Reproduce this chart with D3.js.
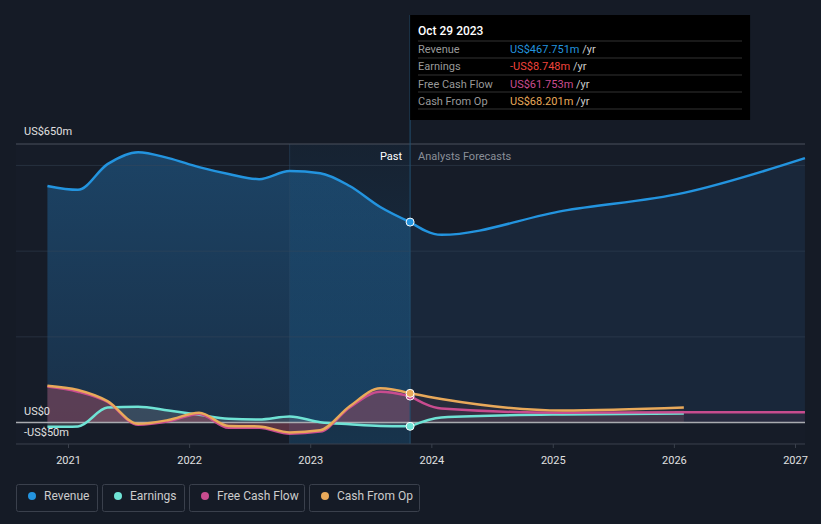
<!DOCTYPE html>
<html>
<head>
<meta charset="utf-8">
<script src="https://cdn.jsdelivr.net/npm/d3@7.9.0/dist/d3.min.js"></script>
<style>
  body { margin: 0; background: #151b26; }
  svg { display: block; font-family: Roboto, "Noto Sans", sans-serif; }
</style>
</head>
<body>
<svg id="chart" width="821" height="524"></svg>
<script>
const pastDates = ['2020-10-31', '2021-01-31', '2021-04-30', '2021-07-31', '2021-10-31', '2022-01-31',
  '2022-04-30', '2022-07-31', '2022-10-31', '2023-01-31', '2023-04-30', '2023-07-31', '2023-10-29'];
const revenuePast = [552, 543, 603, 631, 617, 596, 580, 568, 587, 582, 552, 503, 467.751];
const earningsPast = [-10, -9, 35, 37, 28, 18, 9, 7, 14, 1, -4, -8, -8.748];
const fcfPast = [84, 72, 48, -5, 3, 20, -12, -12, -26, -21, 35, 72, 61.753];
const cfoPast = [86, 76, 50, -3, 6, 23, -8, -9, -23, -18, 38, 80, 68.201];

const fcDates = ['2023-10-29', '2024-01-31', '2025-01-31', '2026-01-31', '2027-01-31'];
const revenueFc = [467.751, 438, 494, 536, 617];
const earningsFc = [-8.748, 12, 19, 21];
const fcfFc = [61.753, 33, 23, 24, 24];
const cfoFc = [68.201, 55, 28, 35];

const yTicks = [0, 200, 400, 600];
const xTickYears = [2021, 2022, 2023, 2024, 2025, 2026, 2027];

const colors = { revenue: '#2394df', earnings: '#6fe3d5', fcf: '#c94c8f', cfo: '#e8a95a' };

const parse = d3.timeParse('%Y-%m-%d');
const svg = d3.select('#chart');

const x = d3.scaleTime()
  .domain([new Date(2021, 0, 1), new Date(2027, 0, 1)])
  .range([68, 795]);
const y = d3.scaleLinear().domain([-50, 650]).range([444, 144]);

const left = 16, right = 805;
const nowDate = parse('2023-10-29');
const xNow = x(nowDate);
const xBand = x(parse('2022-10-31'));

function series(dates, vals) {
  return vals.map((v, i) => ({ date: parse(dates[i]), value: v }));
}

// plot background
svg.append('rect').attr('x', left).attr('y', 144).attr('width', right - left).attr('height', 300)
  .attr('fill', '#161c28');

const defs = svg.append('defs');
const g1 = defs.append('linearGradient').attr('id', 'pastFill').attr('x1', 0).attr('x2', 0).attr('y1', 0).attr('y2', 1);
g1.append('stop').attr('offset', '0%').attr('stop-color', '#1d4a70').attr('stop-opacity', 0.85);
g1.append('stop').attr('offset', '100%').attr('stop-color', '#1a3550').attr('stop-opacity', 0.8);
const g2 = defs.append('linearGradient').attr('id', 'bandFill').attr('x1', 0).attr('x2', 0).attr('y1', 0).attr('y2', 1);
g2.append('stop').attr('offset', '0%').attr('stop-color', '#1a6aa0').attr('stop-opacity', 0.08);
g2.append('stop').attr('offset', '100%').attr('stop-color', '#1a6aa0').attr('stop-opacity', 0.3);

const revPast = series(pastDates, revenuePast);
const revFc = series(fcDates, revenueFc);
const curve = d3.curveMonotoneX;

const area = d3.area().x(d => x(d.date)).y0(y(0)).y1(d => y(d.value)).curve(curve);
const line = d3.line().x(d => x(d.date)).y(d => y(d.value)).curve(curve);

// revenue areas
svg.append('path').datum(revPast).attr('d', area).attr('fill', 'url(#pastFill)');
svg.append('path').datum(revFc).attr('d', area).attr('fill', '#1a2a3e').attr('opacity', 0.8);

// highlight band of last year
svg.append('rect').attr('x', xBand).attr('y', 144).attr('width', xNow - xBand).attr('height', 300)
  .attr('fill', 'url(#bandFill)');
svg.append('line').attr('x1', xBand).attr('x2', xBand).attr('y1', 144).attr('y2', 444)
  .attr('stroke', '#2a4a66').attr('stroke-opacity', 0.5);

// gridlines
svg.append('g').selectAll('line').data(yTicks).join('line')
  .attr('x1', left).attr('x2', right)
  .attr('y1', d => y(d)).attr('y2', d => y(d))
  .attr('stroke', '#3a4a5c').attr('stroke-opacity', 0.45).attr('stroke-width', 1);
svg.append('line').attr('x1', left).attr('x2', right).attr('y1', y(650)).attr('y2', y(650))
  .attr('stroke', '#4a505c');

// small series areas
const small = [
  { key: 'earnings', past: earningsPast, fc: earningsFc, fill: '#8a8f96' },
  { key: 'cfo', past: cfoPast, fc: cfoFc, fill: '#a0504f' },
  { key: 'fcf', past: fcfPast, fc: fcfFc, fill: '#a04a70' }
];
small.forEach(s => {
  svg.append('path').datum(series(pastDates, s.past)).attr('d', area)
    .attr('fill', s.fill).attr('opacity', 0.28);
  svg.append('path').datum(series(fcDates, s.fc)).attr('d', area)
    .attr('fill', s.fill).attr('opacity', 0.12);
});

// zero line
svg.append('line').attr('x1', left).attr('x2', right).attr('y1', y(0)).attr('y2', y(0))
  .attr('stroke', '#a9abb0').attr('stroke-width', 1.5);

// lines
const drawOrder = [
  { key: 'earnings', past: earningsPast, fc: earningsFc },
  { key: 'fcf', past: fcfPast, fc: fcfFc },
  { key: 'cfo', past: cfoPast, fc: cfoFc },
  { key: 'revenue', past: revenuePast, fc: revenueFc }
];
drawOrder.forEach(s => {
  svg.append('path').datum(series(pastDates, s.past)).attr('d', line)
    .attr('fill', 'none').attr('stroke', colors[s.key]).attr('stroke-width', 2.5);
  svg.append('path').datum(series(fcDates, s.fc)).attr('d', line)
    .attr('fill', 'none').attr('stroke', colors[s.key]).attr('stroke-width', 2.5);
});

// now line
svg.append('line').attr('x1', xNow).attr('x2', xNow).attr('y1', 15).attr('y2', 444)
  .attr('stroke', '#22506f').attr('stroke-width', 1);

// markers at now
[['fcf', fcfPast], ['cfo', cfoPast], ['earnings', earningsPast], ['revenue', revenuePast]].forEach(([k, vals]) => {
  svg.append('circle').attr('cx', xNow).attr('cy', y(vals[vals.length - 1])).attr('r', 4)
    .attr('fill', colors[k]).attr('stroke', '#fff').attr('stroke-width', 1);
});

// Past / forecast labels
svg.append('text').attr('x', xNow - 8).attr('y', 160).attr('text-anchor', 'end')
  .attr('fill', '#fff').attr('font-size', 11).text('Past');
svg.append('text').attr('x', xNow + 8).attr('y', 160)
  .attr('fill', '#8a8f98').attr('font-size', 11).text('Analysts Forecasts');

// y labels
svg.append('text').attr('x', 24).attr('y', 135).attr('fill', '#e0e0e0').attr('font-size', 11).text('US$650m');
svg.append('text').attr('x', 24).attr('y', 415).attr('fill', '#e0e0e0').attr('font-size', 11).text('US$0');
svg.append('text').attr('x', 24).attr('y', 436).attr('fill', '#e0e0e0').attr('font-size', 11).text('-US$50m');

// x axis
const xAxis = d3.axisBottom(x)
  .tickValues(xTickYears.map(yr => new Date(yr, 0, 1)))
  .tickFormat(d3.timeFormat('%Y'))
  .tickSize(4)
  .tickSizeOuter(0);
const ax = svg.append('g').attr('transform', 'translate(0,444)').call(xAxis);
ax.select('.domain').remove();
ax.insert('line', ':first-child').attr('x1', left).attr('x2', right).attr('stroke', '#3a404c');
ax.selectAll('.tick line').attr('stroke', '#3a404c');
ax.selectAll('.tick text').attr('fill', '#e0e0e0').attr('font-size', 11).attr('dy', '1.2em')
  .attr('font-family', 'Roboto, "Noto Sans", sans-serif');

// tooltip
const tip = svg.append('g');
tip.append('rect').attr('x', xNow).attr('y', 15).attr('width', 340).attr('height', 105).attr('fill', '#000');
tip.append('text').attr('x', 418).attr('y', 35).attr('fill', '#fff').attr('font-size', 12)
  .attr('font-weight', 500).text('Oct 29 2023');
const tipRows = [
  ['Revenue', 'US$467.751m', '#2394df'],
  ['Earnings', '-US$8.748m', '#f0443c'],
  ['Free Cash Flow', 'US$61.753m', '#c94c8f'],
  ['Cash From Op', 'US$68.201m', '#e8a95a']
];
[41, 58, 75, 92, 109].forEach(yy => {
  tip.append('line').attr('x1', 418).attr('x2', 742).attr('y1', yy).attr('y2', yy).attr('stroke', '#333');
});
tipRows.forEach((r, i) => {
  const yy = 53 + i * 17.3;
  tip.append('text').attr('x', 418).attr('y', yy).attr('fill', '#999').attr('font-size', 11).text(r[0]);
  const t = tip.append('text').attr('x', 510).attr('y', yy).attr('font-size', 11);
  t.append('tspan').attr('fill', r[2]).text(r[1]);
  t.append('tspan').attr('fill', '#ccc').text(' /yr');
});

// legend
const legendItems = [
  ['Revenue', colors.revenue, 16, 81],
  ['Earnings', colors.earnings, 102, 82],
  ['Free Cash Flow', colors.fcf, 189, 115],
  ['Cash From Op', colors.cfo, 309, 110]
];
const lg = svg.append('g');
legendItems.forEach(([label, c, lx, w]) => {
  lg.append('rect').attr('x', lx + 0.5).attr('y', 484.5).attr('width', w).attr('height', 27)
    .attr('rx', 2).attr('fill', 'none').attr('stroke', '#3a404c');
  lg.append('circle').attr('cx', lx + 16).attr('cy', 496).attr('r', 4).attr('fill', c);
  lg.append('text').attr('x', lx + 28).attr('y', 500).attr('fill', '#ccc').attr('font-size', 12).text(label);
});
</script>
</body>
</html>
